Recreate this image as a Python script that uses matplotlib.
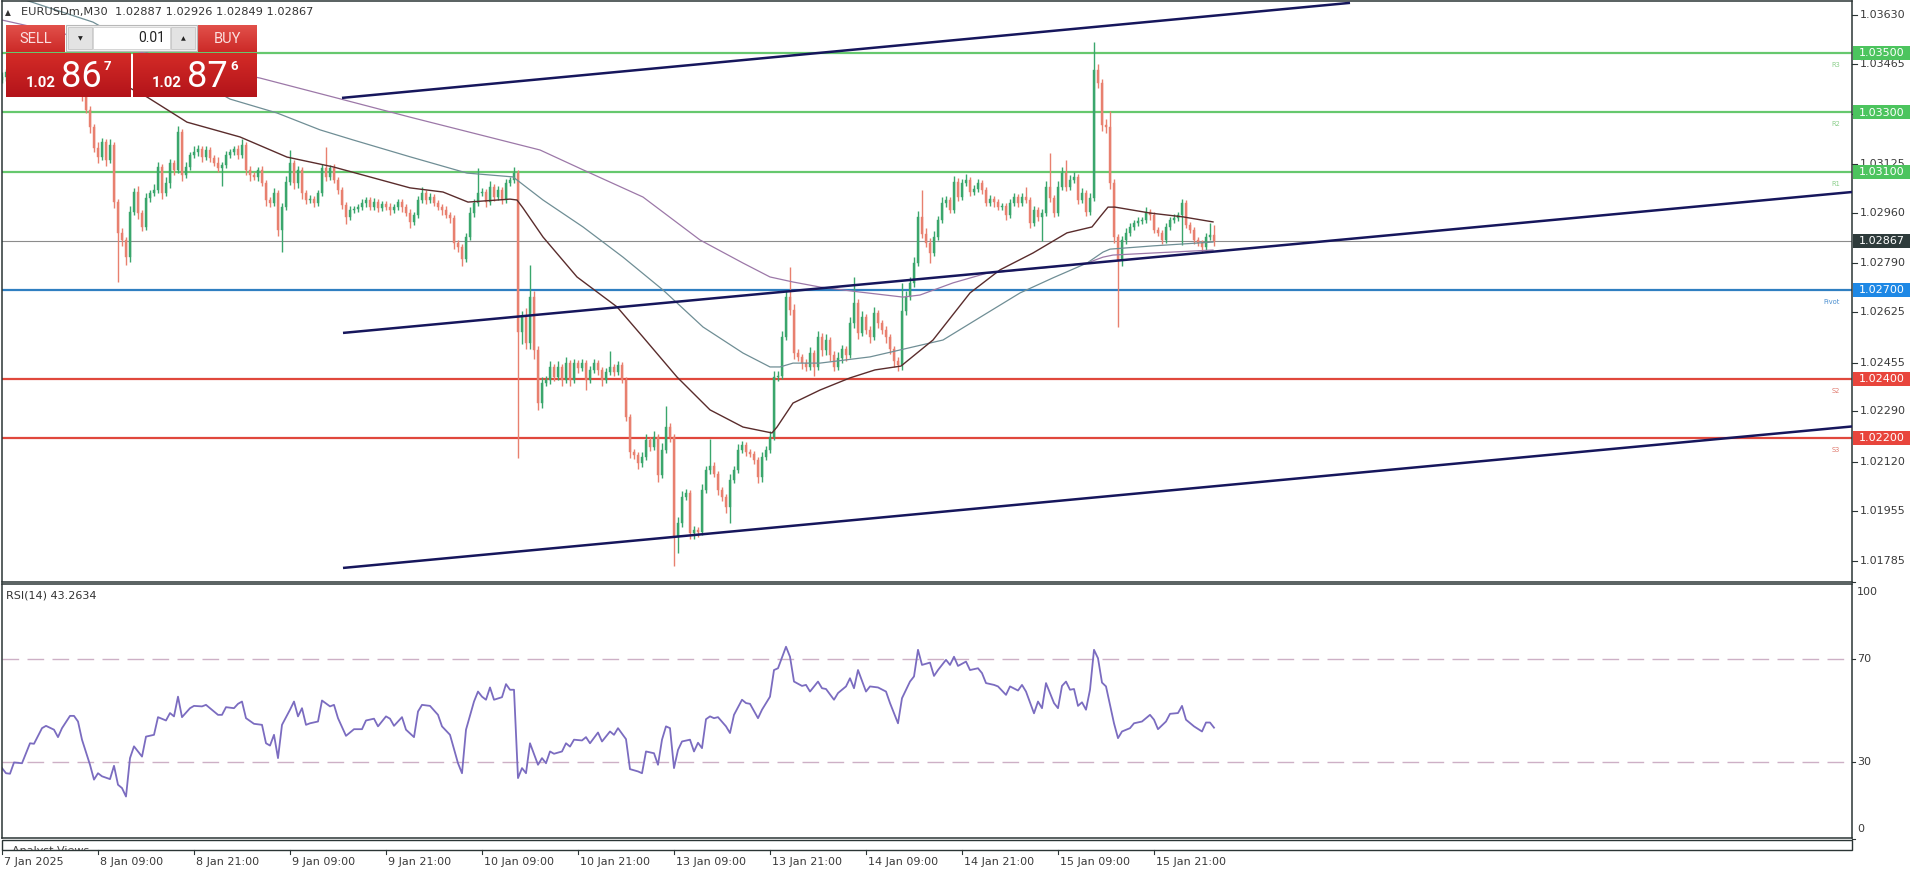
import matplotlib
matplotlib.use("Agg")
import matplotlib.pyplot as plt
from matplotlib.patches import Rectangle
from matplotlib.colors import LinearSegmentedColormap
import numpy as np

plt.rcParams['font.family'] = ['DejaVu Sans']

W, H, DPI = 1916, 874, 100
BASE, PIP = 1.01, 0.0001          # prices below are given in pips above 1.01000

# ------------------------------------------------------------------ data
symbol = "EURUSDm,M30"
ohlc_text = "1.02887 1.02926 1.02849 1.02867"
first_open = 241.0
closes = [
    242, 243.5, 242, 244, 244.5, 243, 243.5, 245, 244, 242.5,
    241, 242, 243.5, 242, 240.5, 239.5, 241, 240, 238.5, 237,
    235.5, 230.8, 225.1, 218.0, 214.9, 220.0, 213.9, 219.0, 199.7, 189.3,
    186.9, 181.1, 196.4, 203.1, 196.0, 191.3, 201.1, 202.8, 203.8, 211.6,
    202.8, 206.1, 212.9, 210.5, 223.4, 208.9, 211.6, 215.6, 216.6, 217.6,
    214.9, 217.3, 214.6, 212.9, 211.2, 212.2, 215.6, 216.5, 217.5, 215.6,
    219.0, 210.5, 208.9, 208.2, 210.5, 206.1, 200.4, 199.5, 202.8, 190.3,
    198.0, 206.5, 212.9, 206.1, 210.5, 202.8, 200.4, 200.6, 199.4, 202.8,
    211.2, 208.2, 211.2, 207.2, 203.8, 198.7, 194.7, 197.0, 197.3, 198.0,
    199.4, 200.4, 198.0, 199.7, 197.7, 199.0, 198.0, 197.0, 198.0, 199.7,
    198.0, 196.0, 193.0, 195.3, 200.4, 202.8, 200.4, 201.4, 199.4, 198.0,
    197.0, 195.3, 194.3, 185.9, 184.5, 180.5, 187.9, 196.0, 199.4, 202.8,
    203.0, 199.7, 204.8, 201.4, 203.8, 200.4, 206.1, 207.2, 209.5, 155.8,
    160.9, 152.1, 167.6, 149.7, 131.8, 138.6, 139.6, 144.0, 140.6, 144.0,
    139.6, 145.3, 139.6, 145.3, 143.6, 145.3, 139.6, 142.9, 145.3, 142.9,
    139.6, 142.3, 144.0, 142.3, 144.6, 139.6, 127.1, 115.3, 114.3, 111.6,
    113.6, 119.3, 117.0, 120.3, 107.5, 115.9, 123.7, 120.3, 86.6, 91.3,
    100.1, 101.4, 87.9, 88.9, 88.2, 102.4, 109.2, 110.5, 107.8, 102.4,
    100.1, 96.7, 105.8, 109.2, 115.9, 117.6, 115.3, 114.6, 112.6, 106.8,
    113.6, 115.9, 120.3, 140.6, 141.0, 154.1, 167.6, 163.2, 148.7, 147.4,
    145.3, 144.0, 148.7, 144.0, 154.1, 149.7, 153.0, 148.0, 144.0, 147.0,
    150.0, 148.0, 158.8, 165.5, 155.5, 161.0, 156.5, 154.1, 162.2, 158.8,
    156.5, 154.1, 150.0, 146.0, 144.5, 163.0, 167.6, 172.4, 179.1, 194.7,
    189.0, 185.9, 182.5, 187.9, 193.6, 199.4, 200.4, 197.0, 206.5, 201.4,
    206.1, 207.2, 203.1, 204.0, 206.1, 203.8, 199.4, 200.7, 199.7, 198.0,
    198.5, 195.3, 199.4, 201.4, 199.4, 201.4, 200.4, 192.6, 197.0, 194.7,
    196.0, 204.8, 201.1, 196.0, 204.8, 209.5, 204.8, 207.2, 208.2, 200.4,
    202.8, 196.4, 201.1, 244.3, 239.9, 225.7, 225.1, 206.1, 187.9, 180.1,
    186.9, 189.3, 191.3, 192.6, 193.3, 193.6, 196.4, 195.3, 190.3, 189.3,
    186.9, 191.3, 193.6, 194.3, 195.3, 199.4, 192.0, 190.3, 186.9, 185.9,
    184.5, 187.9, 188.7, 186.7,
]
upper_wick = [
    1.5, 1, 2, 1, 1.5, 1, 2, 1, 1.5, 1,
    1, 2, 1, 1.5, 1, 1, 2, 1, 1, 1.5,
    1, 2, 1.5, 1, 2, 1.5, 1, 2, 1, 1,
    1.5, 1, 2, 1.5, 2, 1, 1.5, 1, 2, 1.5,
    1, 2, 1.5, 1, 2, 1, 1.5, 1, 2, 1.5,
    1, 1.5, 1, 1, 2, 1, 1.5, 1, 1, 1.5,
    2, 1, 1.5, 1, 1, 1.5, 1, 1, 1.5, 1,
    1.5, 2, 4.5, 1, 1.5, 1, 1, 1.5, 1, 1,
    1.5, 7, 1, 1.5, 1, 1, 1, 1.5, 1, 1,
    1.5, 1, 1, 1.5, 1, 1, 1, 1.5, 1, 1,
    1, 1, 1.5, 1, 1.5, 2, 1, 1.5, 1, 1,
    1, 1.5, 1, 1, 1, 1, 1.5, 2, 1.5, 8.5,
    1.5, 1, 2, 1, 1.5, 1, 1.5, 1, 2, 1,
    2, 3, 11, 2, 1.5, 2, 1.5, 2, 1, 2,
    1, 2, 1, 1.5, 1, 1.5, 1, 1.5, 1.5, 1,
    1, 1.5, 5.5, 1, 1.5, 1, 1, 1, 1, 1,
    1.5, 2, 1, 2, 1, 2.5, 7, 1.5, 1, 2,
    2, 1.5, 1, 1.5, 1, 2, 1.5, 9, 1.5, 1,
    1, 1, 2, 1.5, 2, 1.5, 1, 1, 1, 1,
    1.5, 1.5, 2, 2, 1.5, 2, 2, 10, 2, 1.5,
    1, 1.5, 2, 1, 2, 1.5, 2, 1, 1.5, 2,
    1.5, 1, 2, 9, 1.5, 2, 1, 1.5, 2, 1,
    1, 1.5, 1, 1, 1.5, 9.5, 2, 2, 2, 2,
    9, 2, 1.5, 2, 1.5, 2, 1.5, 1, 2, 1.5,
    1.5, 2, 1, 1.5, 1.5, 1, 1, 1.5, 1, 1,
    1, 1, 1.5, 1.5, 1, 1.5, 3.5, 1, 1.5, 1,
    1.5, 2, 11.5, 1, 2, 2, 4.5, 1.5, 1.5, 1,
    1.5, 1, 1.5, 9.5, 2, 1.5, 2, 5.5, 1.5, 1,
    1.5, 1.5, 1.5, 1, 1.5, 1, 1.5, 1, 1, 1,
    1, 1.5, 1, 1.5, 1, 1.5, 1, 1, 1, 1,
    1, 1.5, 4, 3.3,
]
lower_wick = [
    1, 1.5, 1, 2, 1, 1, 1.5, 1, 1, 2,
    1.5, 1, 1, 1, 2, 1, 1, 1.5, 1, 1,
    1.5, 1, 2, 1.5, 2, 1, 2, 1, 2, 16.5,
    2, 2.5, 1.5, 1, 2, 1.5, 1, 1.5, 1, 1,
    2, 1, 1.5, 1.5, 1, 2, 1, 1, 1, 1.5,
    1.5, 1, 1.5, 1, 1.5, 6, 1, 1, 1, 1.5,
    1, 1.5, 2, 1, 1.5, 1, 2, 1.5, 1, 2,
    7.5, 1, 1, 2, 1.5, 2, 1.5, 1, 1.5, 1,
    1, 1.5, 1, 1, 1.5, 1.5, 2.5, 1, 1, 1,
    1, 1.5, 1, 1, 1.5, 1, 1, 1.5, 1, 1,
    1.5, 1, 2, 1, 1, 1, 1.5, 1, 1, 1,
    1.5, 1, 1.5, 2, 1.5, 2.5, 1, 1, 1.5, 1,
    1, 1.5, 1, 1.5, 1, 1.5, 1, 1, 1, 42.5,
    4, 2, 2, 3, 2.5, 1.5, 1, 1.5, 1.5, 1,
    2, 1, 2, 1, 1.5, 1, 3.5, 1, 1, 1.5,
    2, 1, 1, 1.5, 1, 1, 1.5, 2, 1.5, 2,
    1.5, 1, 1.5, 1, 2.5, 1, 1, 1.5, 10, 5.5,
    1.5, 1, 2, 2, 1.5, 1, 1, 1.5, 1, 1.5,
    1.5, 2, 5.5, 1, 1, 1, 1.5, 1, 1.5, 2,
    1.5, 1, 1, 1, 1.5, 1, 1, 1.5, 2, 1.5,
    2, 1.5, 1, 3, 1, 2, 1.5, 2, 1.5, 1,
    1.5, 2, 1, 1.5, 2, 1, 1.5, 2, 1, 1.5,
    1.5, 2, 1.5, 2, 2, 1.5, 1.5, 1, 1.5, 1,
    1.5, 1.5, 3.5, 1, 1, 1, 1.5, 1, 1, 1.5,
    1, 1, 1.5, 1, 1, 1.5, 1, 1, 1.5, 1,
    1, 1.5, 1, 1, 1.5, 1, 1, 1.5, 1, 1.5,
    8, 1, 1.5, 1.5, 1, 1, 1.5, 1, 1, 1.5,
    1, 1.5, 1, 1, 1.5, 2, 2, 2, 2, 22.5,
    2, 1.5, 1, 1, 1, 1, 1, 1.5, 1, 1,
    1.5, 1, 1, 1, 1, 10, 1, 1, 1.5, 1,
    1.5, 1, 1, 1.8,
]

# moving averages (bar index, pips above 1.01)
ma_fast_bars = [14.5, 32, 36.25, 46.25, 59.5, 71.25, 82.75, 102, 110.25, 116.5, 127, 128.75,
                130.25, 135.25, 143.75, 153.75, 160.25, 168.75, 177, 185.25, 192.5, 193.75,
                197.75, 204.5, 212, 218.25, 224.75, 232.75, 242, 249.5, 257.75, 266.25,
                272.5, 274.5, 276.5, 278.25, 287, 295.25, 302.75]
ma_fast = [247.7, 238.2, 235.2, 226.7, 221.7, 214.9, 211.6, 204.5, 203.1, 199.7, 200.7, 200.4,
           197.7, 187.9, 174.4, 164.3, 154.1, 140.6, 129.5, 123.7, 121.7, 123.7,
           131.8, 136.2, 140.3, 143.0, 144.3, 153.1, 169.0, 176.8, 182.5, 189.3,
           191.3, 194.7, 198.0, 198.0, 196.0, 194.7, 193.0]
ma_mid_bars = [5.75, 22.75, 39.5, 57, 68.75, 79.5, 87.75, 102, 116.25, 127.75, 135.25, 145.25,
               155.25, 165.25, 175.25, 185.25, 192, 194.5, 197.75, 204.5, 217, 235.25, 246.25,
               254.5, 262.75, 271.25, 275.25, 277, 287.75, 302.75]
ma_mid = [268.0, 260.5, 247.7, 234.5, 229.8, 224.1, 220.7, 215.0, 209.5, 208.2, 200.4, 191.3,
          181.1, 170.0, 157.5, 148.7, 144.0, 144.0, 145.3, 145.3, 147.4, 153.1, 162.2,
          169.0, 174.1, 179.1, 182.8, 183.8, 184.9, 186.2]
ma_slow_bars = [0, 24.5, 44.5, 64.5, 82.75, 102, 134.5, 145.25, 160.25, 174.5, 185.25, 192,
                197.75, 204.5, 214.5, 225.25, 229.5, 237.75, 246.25, 262.75, 271.25, 275.25,
                277.75, 287.75, 302.75]
ma_slow = [261.2, 253.8, 247.0, 241.6, 235.2, 228.4, 217.3, 210.6, 201.4, 186.9, 179.1, 174.4,
           172.7, 171.0, 169.3, 167.6, 168.3, 172.4, 175.7, 177.8, 179.1, 181.1,
           181.8, 182.5, 183.5]

# trend channel lines: (bar0, bar1), (pips0, pips1)
channel_top = ([85, 337], [234.9, 267.0])
channel_mid = ([85.25, 462.5], [155.5, 203.1])
channel_low = ([85.25, 462.5], [76.1, 123.9])

level_names = ["R3", "R2", "R1", "Pivot", "S2", "S3"]
level_prices = [1.03500, 1.03300, 1.03100, 1.02700, 1.02400, 1.02200]
current_price = 1.02867
price_ticks = [1.03630, 1.03465, 1.03295, 1.03125, 1.02960, 1.02790, 1.02625,
               1.02455, 1.02290, 1.02120, 1.01955, 1.01785]

rsi_bars = [0, 1, 2, 3, 5, 7, 8, 10, 11, 13, 14, 15, 17, 18, 19, 20, 22, 23, 24, 25, 27, 28, 29, 30,
            31, 32, 33, 35, 36, 38, 39, 41, 42, 43, 44, 45, 47, 48, 50, 51, 52, 54, 55, 56, 58, 59,
            60, 61, 63, 65, 66, 67, 68, 69, 70, 72, 73, 74, 75, 76, 77, 79, 80, 82, 83, 84, 86, 88,
            90, 91, 93, 94, 96, 97, 98, 100, 101, 103, 104, 105, 107, 109, 110, 112, 114, 115, 116,
            118, 119, 120, 121, 122, 123, 125, 126, 127, 128, 129, 130, 131, 132, 134, 135, 136, 137,
            138, 140, 141, 142, 143, 145, 146, 147, 149, 150, 152, 153, 154, 156, 157, 159, 160, 161,
            163, 164, 165, 166, 167, 168, 169, 170, 172, 173, 174, 175, 176, 177, 178, 179, 181, 182,
            183, 185, 186, 187, 189, 190, 192, 193, 194, 196, 197, 198, 200, 201, 202, 204, 205, 206,
            208, 209, 211, 212, 213, 214, 216, 217, 219, 221, 222, 224, 225, 227, 228, 229, 230, 232,
            233, 234, 236, 237, 238, 239, 241, 242, 244, 245, 246, 248, 249, 251, 252, 254, 255, 256,
            258, 259, 260, 261, 263, 264, 265, 266, 267, 268, 269, 270, 271, 272, 273, 274, 275, 276,
            278, 279, 280, 282, 283, 285, 287, 288, 289, 291, 292, 294, 295, 296, 298, 300, 301, 302, 303]
rsi_vals = [27.5, 25.5, 25.3, 29.7, 29.4, 37.2, 37.0, 43.1, 44.0, 42.5, 39.6, 43.1, 47.9, 47.9, 45.7,
            38.6, 28.8, 23.0, 25.5, 24.3, 23.2, 28.4, 21.0, 19.7, 16.4, 31.4, 36.0, 32.0, 39.8, 40.5,
            47.4, 46.1, 49.0, 47.7, 55.4, 47.4, 50.9, 51.8, 51.6, 52.2, 50.9, 48.3, 48.3, 51.3, 50.9,
            52.6, 53.5, 47.0, 44.8, 44.4, 37.2, 36.3, 40.5, 31.4, 44.4, 50.3, 53.5, 47.7, 50.9, 44.4,
            45.0, 45.7, 53.9, 51.6, 52.2, 47.0, 40.1, 42.7, 42.7, 46.1, 46.8, 43.8, 47.7, 46.8, 44.0,
            47.4, 42.5, 39.6, 49.6, 52.2, 51.8, 48.3, 43.8, 40.5, 29.4, 25.5, 42.5, 53.5, 57.4, 55.4,
            54.2, 59.0, 54.2, 55.2, 60.3, 58.1, 58.1, 23.6, 27.5, 25.5, 37.2, 28.8, 31.4, 29.4, 34.0,
            33.1, 34.0, 37.2, 35.9, 38.6, 38.3, 39.6, 37.2, 41.4, 37.9, 41.8, 40.5, 43.1, 38.8, 27.1,
            26.2, 25.5, 34.0, 33.3, 28.8, 38.6, 43.8, 43.1, 27.5, 34.6, 37.9, 38.6, 34.0, 37.4, 35.3,
            46.6, 47.7, 47.0, 47.4, 43.8, 41.2, 48.3, 54.2, 52.9, 52.6, 47.0, 50.3, 55.4, 65.8, 66.5,
            74.9, 71.0, 61.3, 59.6, 60.0, 57.4, 61.3, 58.7, 58.4, 54.2, 56.8, 59.4, 62.6, 58.7, 65.8,
            57.4, 59.4, 59.0, 57.4, 52.9, 45.0, 54.8, 61.3, 63.3, 73.7, 67.8, 68.7, 63.5, 65.8, 69.8,
            67.8, 71.0, 67.4, 69.1, 65.8, 66.5, 64.6, 60.7, 60.0, 59.4, 56.1, 59.4, 57.8, 60.0, 57.4,
            48.9, 53.5, 50.9, 60.7, 52.9, 50.9, 59.6, 61.3, 58.1, 58.4, 51.8, 53.2, 50.3, 58.1, 73.7,
            70.4, 60.9, 59.4, 45.0, 39.2, 41.8, 43.1, 45.0, 45.7, 48.3, 46.4, 42.7, 45.7, 48.7, 49.0,
            51.8, 46.4, 43.8, 41.8, 45.3, 45.3, 43.3]
rsi_title = "RSI(14) 43.2634"
rsi_levels = [70, 30]
rsi_ticks = [100, 70, 30, 0]

time_bars = [0, 24, 48, 72, 96, 120, 144, 168, 192, 216, 240, 264, 288]
time_labels = ["7 Jan 2025", "8 Jan 09:00", "8 Jan 21:00", "9 Jan 09:00", "9 Jan 21:00",
               "10 Jan 09:00", "10 Jan 21:00", "13 Jan 09:00", "13 Jan 21:00", "14 Jan 09:00",
               "14 Jan 21:00", "15 Jan 09:00", "15 Jan 21:00"]

lot_size = "0.01"
bid_parts = ("1.02", "86", "7")
ask_parts = ("1.02", "87", "6")

# ------------------------------------------------------------------ colours
BULL, BEAR = '#3aa66c', '#e8806f'
GREEN_LVL, BLUE_LVL, RED_LVL = '#66c86e', '#2f7fc1', '#e0483c'
GREEN_BOX, BLUE_BOX, RED_BOX, DARK_BOX = '#4cc45e', '#1e88e5', '#e8453c', '#2e3b3b'
NAVY = '#16165c'
FRAME = '#2b3535'
level_line_col = [GREEN_LVL, GREEN_LVL, GREEN_LVL, BLUE_LVL, RED_LVL, RED_LVL]
level_box_col = [GREEN_BOX, GREEN_BOX, GREEN_BOX, BLUE_BOX, RED_BOX, RED_BOX]
level_txt_col = ['#8ccf8c', '#8ccf8c', '#8ccf8c', '#4a8fd0', '#e07a6e', '#e07a6e']

# ------------------------------------------------------------------ figure
fig = plt.figure(figsize=(W / DPI, H / DPI), dpi=DPI, facecolor='white')


def frac(x0, y0, x1, y1):
    return [x0 / W, 1 - y1 / H, (x1 - x0) / W, (y1 - y0) / H]


ax = fig.add_axes(frac(2, 1, 1852, 581.5))
ax_rsi = fig.add_axes(frac(2, 583.5, 1852, 838))
for a in (ax, ax_rsi):
    a.set_xlim(0, 462.5)
    a.set_xticks([])
    a.set_yticks([])
    for s in a.spines.values():
        s.set_color(FRAME)
        s.set_linewidth(1.1)
ax.set_ylim(BASE + 71.52 * PIP, BASE + 267.63 * PIP)
ax_rsi.set_ylim(0.2, 99.6)

c = np.array(closes) * PIP + BASE
o = np.array([first_open] + closes[:-1]) * PIP + BASE
hi = np.maximum(o, c) + np.array(upper_wick) * PIP
lo = np.minimum(o, c) - np.array(lower_wick) * PIP
bars = np.arange(len(c))
cols = np.where(c >= o, BULL, BEAR)

# levels
for p, col in zip(level_prices, level_line_col):
    ax.axhline(p, color=col, lw=1.6, zorder=1)
ax.axhline(current_price, color='#8c8c8c', lw=0.8, zorder=1)

# candles
ax.vlines(bars, lo, hi, colors=cols, lw=1.0, zorder=2)
body = np.maximum(np.abs(c - o), 0.25 * PIP)
ax.bar(bars, body, bottom=np.minimum(o, c), width=0.66, color=cols, edgecolor=cols,
       linewidth=0.3, zorder=2.1)

# moving averages
ax.plot(ma_slow_bars, np.array(ma_slow) * PIP + BASE, color='#9c78a8', lw=0.9, zorder=2.5)
ax.plot(ma_mid_bars, np.array(ma_mid) * PIP + BASE, color='#6f8e95', lw=0.9, zorder=2.5)
ax.plot(ma_fast_bars, np.array(ma_fast) * PIP + BASE, color='#5a2c2c', lw=1.0, zorder=2.6)

# channel
for xs, ys in (channel_top, channel_mid, channel_low):
    ax.plot(xs, np.array(ys) * PIP + BASE, color=NAVY, lw=1.8, zorder=3,
            solid_capstyle='butt')

# RSI
for lv in rsi_levels:
    ax_rsi.axhline(lv, color='#cdb0c6', lw=1.0, dashes=(12, 6), zorder=1)
ax_rsi.plot(rsi_bars, rsi_vals, color='#7b6cc0', lw=1.3, zorder=2)

# ------------------------------------------------------------------ overlay (pixel space)
ov = fig.add_axes([0, 0, 1, 1], zorder=10)
ov.patch.set_alpha(0)
ov.axis('off')
ov.set_xlim(0, W)
ov.set_ylim(H, 0)


def px_y(price):
    return H - ax.transData.transform((0, price))[1]


def px_x(bar):
    return ax.transData.transform((bar, 0))[0]


def px_y_rsi(v):
    return H - ax_rsi.transData.transform((0, v))[1]


TICK_COL = '#3a3a3a'
# right price axis ticks
for p in price_ticks:
    y = px_y(p)
    ov.plot([1852, 1857], [y, y], color=FRAME, lw=0.8, zorder=2)
    ov.text(1860, y, f"{p:.5f}", ha='left', va='center', fontsize=8, color=TICK_COL, zorder=2)


def price_box(p, col):
    y = px_y(p)
    ov.add_patch(Rectangle((1853.5, y - 7), 57, 14, fc=col, ec='none', zorder=4))
    ov.text(1882, y + 0.3, f"{p:.5f}", ha='center', va='center', fontsize=8, color='white', zorder=5)


for name, p, bc, tc in zip(level_names, level_prices, level_box_col, level_txt_col):
    price_box(p, bc)
    ov.text(1836 if name != "Pivot" else 1832, px_y(p) + 12, name, ha='center', va='center',
            fontsize=4.8, color=tc, zorder=2)
price_box(current_price, DARK_BOX)

# RSI axis labels
for v in rsi_ticks:
    y = px_y_rsi(v)
    ov.plot([1852, 1855], [y, y], color=FRAME, lw=0.8)
    yl = min(max(y, 592), 829)
    ov.text(1857, yl, f"{v}", ha='left', va='center', fontsize=8, color=TICK_COL)
ov.text(6, 596, rsi_title, ha='left', va='center', fontsize=8, color='#333333')

# analyst views strip (label cut off by the strip's lower border)
ov.add_patch(Rectangle((2, 840), 1850, 9.5, fc='white', ec=FRAME, lw=1.0))
clip = Rectangle((2, 840), 1850, 9.5, transform=ov.transData)
t = ov.text(12, 854.5, "Analyst Views", ha='left', va='baseline', fontsize=8, color='#444444')
t.set_clip_path(clip)
t.set_clip_on(True)

# time axis
for b, lab in zip(time_bars, time_labels):
    x = px_x(b)
    ov.plot([x, x], [849.5, 854], color=FRAME, lw=0.8)
    ov.text(x + 2, 857, lab, ha='left', va='top', fontsize=8, color=TICK_COL)

# header
ov.text(5, 12.5, "\u25b2", ha='left', va='center', fontsize=5.5, color='#333333')
ov.text(21, 12.5, f"{symbol}  {ohlc_text}", ha='left', va='center', fontsize=8.2, color='#333333')


# one-click trading panel
def grad_box(x0, y0, x1, y1, top, bottom, z=6):
    cm = LinearSegmentedColormap.from_list('g', [top, bottom])
    g = np.linspace(0, 1, 64).reshape(-1, 1)
    ov.imshow(g, cmap=cm, extent=(x0, x1, y1, y0), aspect='auto', origin='upper',
              interpolation='bilinear', zorder=z)


grad_box(6, 25, 65, 52, '#e2504a', '#cc2a28')
grad_box(198, 25, 257, 52, '#e2504a', '#cc2a28')
grad_box(6, 53, 131, 97, '#d42b27', '#b3141a')
grad_box(133, 53, 257, 97, '#d42b27', '#b3141a')
ov.add_patch(Rectangle((66, 25), 131, 26, fc='#f2f2f2', ec='#b8b8b8', lw=0.8, zorder=6))
ov.add_patch(Rectangle((68, 27), 24, 22, fc='#e3e3e3', ec='#c6c6c6', lw=0.6, zorder=7))
ov.add_patch(Rectangle((93, 27), 77, 22, fc='white', ec='#d0d0d0', lw=0.6, zorder=7))
ov.add_patch(Rectangle((171, 27), 24, 22, fc='#e3e3e3', ec='#c6c6c6', lw=0.6, zorder=7))
ov.text(80, 38.5, "\u25bc", ha='center', va='center', fontsize=4.5, color='#222222', zorder=8)
ov.text(183, 38.5, "\u25b2", ha='center', va='center', fontsize=4.5, color='#222222', zorder=8)
ov.text(165, 38.5, lot_size, ha='right', va='center', fontsize=10, color='#222222',
        family='Roboto', zorder=8)
ov.text(35.5, 39, "SELL", ha='center', va='center', fontsize=10.5, color='#fbe0e0',
        family='Roboto', zorder=8)
ov.text(227.5, 39, "BUY", ha='center', va='center', fontsize=10.5, color='#fbe0e0',
        family='Roboto', zorder=8)
for parts, x0 in ((bid_parts, 26), (ask_parts, 152)):
    ov.text(x0, 87, parts[0], ha='left', va='baseline', fontsize=10.7, fontweight='bold',
            color='white', family='Roboto', zorder=8)
    ov.text(x0 + 35, 87, parts[1], ha='left', va='baseline', fontsize=26, color='white',
            family='Roboto', zorder=8)
    ov.text(x0 + 78, 70, parts[2], ha='left', va='baseline', fontsize=9.5, fontweight='bold',
            color='white', family='Roboto', zorder=8)

ov.set_xlim(0, W)
ov.set_ylim(H, 0)

fig.savefig("out.png", dpi=DPI, facecolor='white')
